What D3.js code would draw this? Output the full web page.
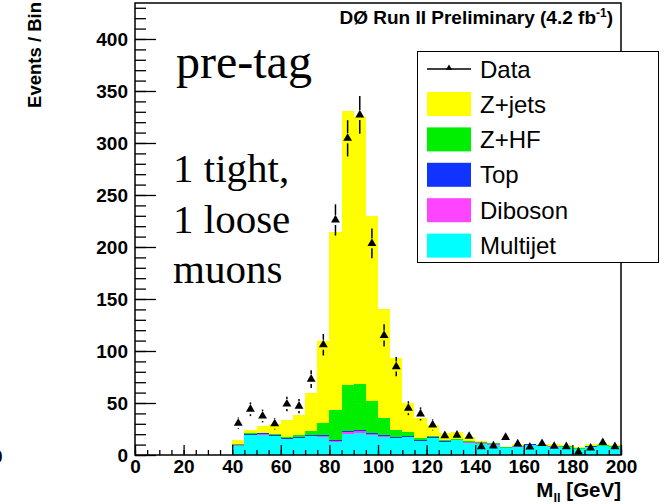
<!DOCTYPE html>
<html>
<head>
<meta charset="utf-8">
<script src="https://cdn.jsdelivr.net/npm/d3@7"></script>
<style>
body { margin: 0; background: #fff; }
svg { display: block; }
</style>
</head>
<body>
<svg width="666" height="504" font-family="Liberation Sans, Arial, sans-serif"></svg>
<script>
// bin low edges, 5 GeV bins from 40 to 200
var binLow = d3.range(40, 200, 5);
var binWidth = 5;

// stack components per bin (events)
var multijet = [9, 19, 19.5, 18, 15, 16, 18, 17.5, 12.8, 20, 21.5, 19, 17.5, 16, 17, 13, 16, 12.5, 14, 12, 11, 10, 6.5, 8, 9.5, 9, 8, 7.5, 5.5, 8, 8.5, 7.5];
var diboson = [0.3, 0.5, 0.5, 0.5, 0.5, 0.6, 0.7, 0.8, 1.0, 1.8, 2.0, 1.5, 1.0, 0.7, 0.5, 0.4, 0.4, 0.3, 0.3, 0.3, 0.3, 0.2, 0.2, 0.2, 0.2, 0.2, 0.2, 0.2, 0.1, 0.1, 0.1, 0.1];
var top_ = [0.6, 0.8, 0.8, 0.8, 0.8, 0.8, 0.8, 0.8, 0.8, 0.8, 0.8, 0.8, 0.8, 0.8, 0.7, 0.7, 0.7, 0.6, 0.6, 0.6, 0.5, 0.5, 0.5, 0.5, 0.4, 0.4, 0.4, 0.4, 0.4, 0.3, 0.3, 0.3];
var zhf = [0.3, 0.5, 0.5, 0.6, 0.8, 1.5, 3.5, 12, 29, 45, 44, 31, 16, 7, 4, 2.5, 1.5, 1, 0.9, 0.8, 0.6, 0.5, 0.4, 0.4, 0.4, 0.3, 0.3, 0.3, 0.3, 0.3, 0.3, 0.3];
var zjets = [4.2, 3.7, 6.7, 10.1, 16.5, 19.1, 37, 78.5, 170.4, 263.4, 256.7, 177.7, 104.7, 69.1, 27.5, 19.4, 9.9, 6.6, 6.2, 3.8, 0.6, 0.3, 0.4, 1.9, 0.5, 1.1, 1.6, 1.1, 1.1, 1.9, 1.4, 1.3];

// data counts per bin
var dataCounts = [30.5, 44, 37.5, 30, 49, 47, 73, 106, 226, 304.5, 327, 203.5, 115, 85, 45, 39.5, 29, 18.6, 19, 18, 8, 8.7, 17, 10.6, 7.7, 11, 8.4, 8, 3, 6.7, 12, 8];

var seriesKeys = ["Multijet", "Diboson", "Top", "Z+HF", "Z+jets"];
var seriesColors = {"Z+jets": "#ffff00", "Z+HF": "#00ee00", "Top": "#1133ff", "Diboson": "#ff44ff", "Multijet": "#00ffff"};
var legendOrder = ["Z+jets", "Z+HF", "Top", "Diboson", "Multijet"];

var xTicks = d3.range(0, 201, 20);
var yTicks = d3.range(0, 401, 50);

var svg = d3.select("svg");

var x = d3.scaleLinear().domain([0, 200]).range([135, 621]);
var y = d3.scaleLinear().domain([0, 434.6]).range([455, 3]);

var table = binLow.map(function(lo, i) {
	return {lo: lo, "Multijet": multijet[i], "Diboson": diboson[i], "Top": top_[i], "Z+HF": zhf[i], "Z+jets": zjets[i]};
});

var stacked = d3.stack().keys(seriesKeys)(table);

// stacked histogram
svg.append("g")
	.selectAll("g")
	.data(stacked)
	.enter().append("g")
	.attr("fill", function(d) { return seriesColors[d.key]; })
	.selectAll("rect")
	.data(function(d) { return d; })
	.enter().append("rect")
	.attr("shape-rendering", "crispEdges")
	.attr("x", function(d) { return x(d.data.lo); })
	.attr("width", function(d) { return x(d.data.lo + binWidth) - x(d.data.lo); })
	.attr("y", function(d) { return y(d[1]); })
	.attr("height", function(d) { return y(d[0]) - y(d[1]); });

// axes (ticks inward, drawn over the histogram)
var yMinor = svg.append("g").attr("transform", "translate(135,0)")
	.call(d3.axisLeft(y).tickValues(d3.range(0, 435, 10)).tickSize(-11).tickFormat(""));
var yMajor = svg.append("g").attr("transform", "translate(135,0)")
	.call(d3.axisLeft(y).tickValues(yTicks).tickSize(-21).tickPadding(7));
var xMinor = svg.append("g").attr("transform", "translate(0,455)")
	.call(d3.axisBottom(x).tickValues(d3.range(0, 201, 5)).tickSize(-5).tickFormat(""));
var xMajor = svg.append("g").attr("transform", "translate(0,455)")
	.call(d3.axisBottom(x).tickValues(xTicks).tickSize(-10).tickPadding(5));

[yMinor, yMajor, xMinor, xMajor].forEach(function(g) {
	g.attr("font-family", null).attr("font-size", null);
	g.select(".domain").remove();
	g.selectAll("line").attr("stroke", "#000").attr("stroke-width", 1.3);
	g.selectAll("text").attr("font-weight", "bold").attr("font-size", 19).attr("fill", "#000");
});

// frame
svg.append("rect")
	.attr("x", 135).attr("y", 3)
	.attr("width", 621 - 135).attr("height", 455 - 3)
	.attr("fill", "none").attr("stroke", "#000").attr("stroke-width", 1.5);

// data points with error bars
var pts = svg.append("g");
binLow.forEach(function(lo, i) {
	var v = dataCounts[i], e = Math.sqrt(v);
	var cx = x(lo + binWidth / 2), cy = y(v);
	if (y(v + e) < cy - 5) {
		pts.append("line").attr("x1", cx).attr("x2", cx).attr("y1", y(v + e)).attr("y2", cy - 5)
			.attr("stroke", "#000").attr("stroke-width", 1.5);
		pts.append("line").attr("x1", cx).attr("x2", cx).attr("y1", cy + 5).attr("y2", y(Math.max(0, v - e)))
			.attr("stroke", "#000").attr("stroke-width", 1.5);
	}
	pts.append("path")
		.attr("d", d3.symbol(d3.symbolTriangle, 34)())
		.attr("transform", "translate(" + cx + "," + cy + ")")
		.attr("fill", "#000");
});

// header
svg.append("text")
	.attr("x", 613).attr("y", 24)
	.attr("text-anchor", "end")
	.attr("font-weight", "bold").attr("font-size", 19)
	.html('DØ Run II Preliminary (4.2 fb<tspan dy="-7" font-size="12">-1</tspan><tspan dy="7">)</tspan>');

// legend
var legend = svg.append("g");
legend.append("rect")
	.attr("x", 417.5).attr("y", 51.5).attr("width", 241).attr("height", 211)
	.attr("fill", "#fff").attr("stroke", "#000").attr("stroke-width", 1);
legend.append("line").attr("x1", 427).attr("x2", 471).attr("y1", 69).attr("y2", 69)
	.attr("stroke", "#000").attr("stroke-width", 1.3);
legend.append("path").attr("d", d3.symbol(d3.symbolTriangle, 16)())
	.attr("transform", "translate(449,68)").attr("fill", "#000");
legend.append("text").attr("x", 480).attr("y", 69).attr("dy", "0.36em")
	.attr("font-size", 24).text("Data");
legendOrder.forEach(function(k, i) {
	var cy = 104 + i * 35.4;
	legend.append("rect").attr("x", 427).attr("y", cy - 12).attr("width", 44).attr("height", 24)
		.attr("fill", seriesColors[k]);
	legend.append("text").attr("x", 480).attr("y", cy).attr("dy", "0.36em")
		.attr("font-size", 24).text(k);
});

// annotations
var serif = "Liberation Serif, Times New Roman, serif";
svg.append("text").attr("x", 176).attr("y", 78).attr("font-family", serif)
	.attr("font-size", 48).text("pre-tag");
["1 tight,", "1 loose", "muons"].forEach(function(s, i) {
	svg.append("text").attr("x", 173).attr("y", 182 + i * 50.5).attr("font-family", serif)
		.attr("font-size", 41).text(s);
});

// axis titles
svg.append("text")
	.attr("transform", "translate(41,2) rotate(-90)")
	.attr("text-anchor", "end")
	.attr("font-weight", "bold").attr("font-size", 18.5)
	.text("Events / Bin");
svg.append("text")
	.attr("x", 621).attr("y", 497)
	.attr("text-anchor", "end")
	.attr("font-weight", "bold").attr("font-size", 20.5)
	.html('M<tspan dy="5" font-size="13">ll</tspan><tspan dy="-5"> [GeV]</tspan>');

// stray clipped label at the left edge
svg.append("text").attr("x", -8).attr("y", 463)
	.attr("font-weight", "bold").attr("font-size", 19).text("0");
</script>
</body>
</html>
